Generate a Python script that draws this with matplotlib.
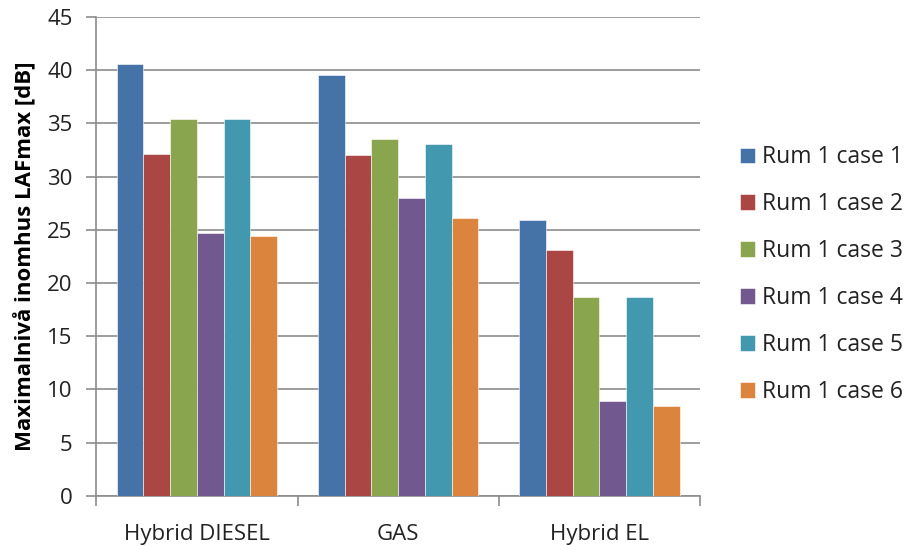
import numpy as np
import matplotlib.pyplot as plt
from matplotlib.ticker import FixedLocator

plt.rcParams['font.family'] = ['Open Sans', 'DejaVu Sans']

# Maximum indoor level per vehicle type and case
categories = ["Hybrid DIESEL", "GAS", "Hybrid EL"]
series_names = ["Rum 1 case 1", "Rum 1 case 2", "Rum 1 case 3",
                "Rum 1 case 4", "Rum 1 case 5", "Rum 1 case 6"]
case1 = [40.6, 39.5, 25.9]
case2 = [32.1, 32.0, 23.1]
case3 = [35.4, 33.5, 18.7]
case4 = [24.7, 28.0, 8.9]
case5 = [35.4, 33.1, 18.7]
case6 = [24.4, 26.1, 8.4]
colors = ["#4572A7", "#AA4643", "#89A54E", "#71588F", "#4198AF", "#DB843D"]

fig = plt.figure(figsize=(9.08, 5.46), dpi=100)
ax = fig.add_axes([0.106, 0.092, 0.665, 0.877])

x = np.arange(len(categories))
n = len(series_names)
w = 1 / 7.54
for i, (vals, name, c) in enumerate(zip([case1, case2, case3, case4, case5, case6],
                                        series_names, colors)):
    ax.bar(x + (i - (n - 1) / 2) * w, vals, w, color=c, label=name,
           edgecolor="white", linewidth=0.4, zorder=3)

ax.set_xlim(-0.5, 2.5)
ax.set_ylim(0, 45)
ax.set_yticks(np.arange(0, 46, 5))
ax.yaxis.grid(True, color="#8c8c8c", linewidth=1.2, zorder=0)
ax.set_xticks(x)
ax.set_xticklabels(categories)
ax.xaxis.set_minor_locator(FixedLocator([-0.5, 0.5, 1.5, 2.5]))
ax.tick_params(axis="x", which="major", length=0, pad=20, labelsize=16, labelcolor="#222222")
ax.tick_params(axis="x", which="minor", length=7, color="#8c8c8c", width=1.2)
ax.tick_params(axis="y", length=7, color="#8c8c8c", width=1.2, labelsize=16,
               pad=10, labelcolor="#222222")

for side in ["top", "right"]:
    ax.spines[side].set_visible(False)
for side in ["left", "bottom"]:
    ax.spines[side].set_color("#8c8c8c")
    ax.spines[side].set_linewidth(1.2)

ax.set_ylabel("Maximalnivå inomhus LAFmax [dB]", fontsize=16, fontweight="bold", labelpad=8)

leg = fig.legend(loc="center left", bbox_to_anchor=(0.815, 0.497), frameon=False,
                 fontsize=16.5, handlelength=0.66, handleheight=0.66,
                 labelspacing=1.0, handletextpad=0.3, borderpad=0, borderaxespad=0)
for t in leg.get_texts():
    t.set_color("#222222")

fig.savefig("out.png", dpi=100)
